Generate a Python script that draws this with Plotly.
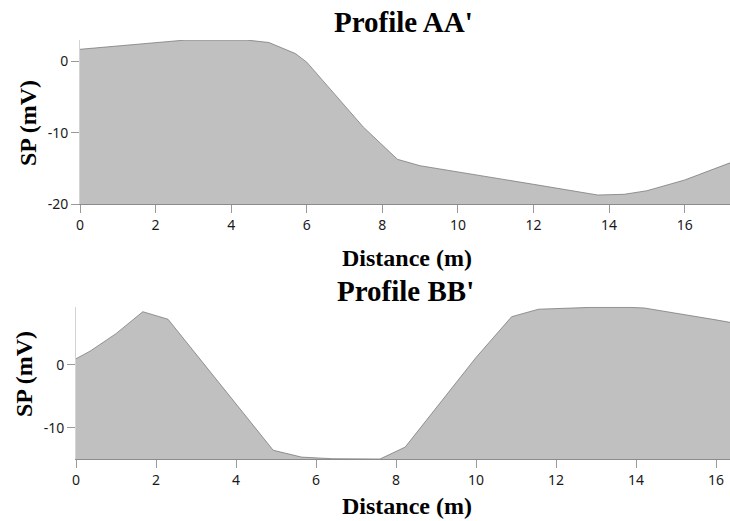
import plotly.graph_objects as go

# Profile AA'
aa_dist = [0.0, 2.3, 2.8, 4.4, 5.0, 5.7, 6.0, 7.5, 8.4, 9.0, 10.0, 12.0, 13.7, 14.4, 15.0, 16.0, 17.2]
aa_sp = [1.7, 2.8, 3.0, 3.0, 2.65, 1.1, -0.1, -9.2, -13.7, -14.6, -15.5, -17.2, -18.7, -18.6, -18.1, -16.6, -14.2]

# Profile BB'
bb_dist = [0.0, 0.35, 1.0, 1.67, 2.3, 4.93, 5.64, 6.4, 7.6, 8.23, 10.0, 10.89, 11.56, 12.9, 13.8, 14.2, 16.0, 16.35]
bb_sp = [1.0, 2.2, 5.0, 8.5, 7.3, -13.6, -14.7, -14.95, -15.0, -13.1, 1.2, 7.7, 8.9, 9.2, 9.2, 9.1, 7.2, 6.8]

# tick labels
aa_yticks = [-20, -10, 0]
aa_yticklabels = ["-20", "-10", "0"]
bb_yticks = [-10, 0]
bb_yticklabels = ["-10", "0"]

aa_range_x = [0, 17.2]
aa_range_y = [-20, 3.0]
bb_range_x = [0, 16.35]
bb_range_y = [-15, 9.3]

FILL = "#c0c0c0"
EDGE = "#707070"
XLINE = "#8c8c8c"
YLINE = "#d4d4d4"
TICKC = "#9a9a9a"
TICKFONT = dict(family="Noto Sans", size=14, color="#1a1a1a")
SERIF = "Liberation Serif"

W, H = 730, 521

def px(X):
    return X / W

def py(Y):
    return 1 - Y / H

fig = go.Figure()

def add_profile(xs, ys, ybase, xa, ya):
    fig.add_trace(go.Scatter(x=xs, y=[ybase] * len(xs), mode="lines",
                             line=dict(width=0, color=FILL), hoverinfo="skip",
                             showlegend=False, xaxis=xa, yaxis=ya))
    fig.add_trace(go.Scatter(x=xs, y=ys, mode="lines", fill="tonexty",
                             fillcolor=FILL, line=dict(color=EDGE, width=0.7),
                             showlegend=False, xaxis=xa, yaxis=ya))

add_profile(aa_dist, aa_sp, aa_range_y[0], "x", "y")
add_profile(bb_dist, bb_sp, bb_range_y[0], "x2", "y2")

common = dict(showgrid=False, zeroline=False, showline=True, linewidth=1,
              ticks="outside", ticklen=8, tickcolor=TICKC, tickwidth=1,
              tickfont=TICKFONT, automargin=False)
xcommon = dict(linecolor=XLINE, dtick=2, **common)
ycommon = dict(linecolor=YLINE, tickmode="array", **common)

fig.update_layout(
    width=W, height=H,
    margin=dict(l=0, r=0, t=0, b=0, autoexpand=False),
    paper_bgcolor="white", plot_bgcolor="white",
    xaxis=dict(domain=[px(80), 1], range=aa_range_x, anchor="y", **xcommon),
    yaxis=dict(domain=[py(204.3), py(40)], range=aa_range_y, anchor="x",
               tickvals=aa_yticks, ticktext=aa_yticklabels, **ycommon),
    xaxis2=dict(domain=[px(76), 1], range=bb_range_x, anchor="y2", **xcommon),
    yaxis2=dict(domain=[py(459), py(306.7)], range=bb_range_y, anchor="x2",
                tickvals=bb_yticks, ticktext=bb_yticklabels, **ycommon),
)

def ann(text, x, y, size, angle=0):
    fig.add_annotation(text=f"<b>{text}</b>", x=px(x), y=py(y), xref="paper", yref="paper",
                       showarrow=False, textangle=angle, xanchor="center", yanchor="middle",
                       font=dict(family=SERIF, size=size, color="black"))

ann("Profile AA'", 404, 22, 29)
ann("Distance (m)", 407, 258, 24)
ann("SP (mV)", 28, 123, 24, angle=-90)
ann("Profile BB'", 405, 291, 29)
ann("Distance (m)", 407, 506, 24)
ann("SP (mV)", 24, 374, 24, angle=-90)

fig.write_html("out.html", config={"displayModeBar": False},
               post_script="document.body.style.margin='0';")
